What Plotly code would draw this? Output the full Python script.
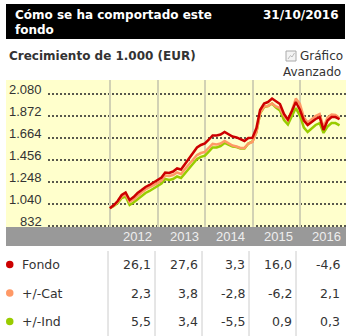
import plotly.graph_objects as go
import pandas as pd

W, H = 348, 336

# ---------------- data ----------------
dates = pd.date_range("2011-12-31", periods=59, freq="ME")

fondo = [1000, 1030, 1068, 1125, 1149, 1078, 1106, 1144, 1172, 1201, 1220, 1243,
         1262, 1290, 1338, 1333, 1347, 1376, 1366, 1418, 1475, 1527, 1574, 1598,
         1612, 1650, 1688, 1688, 1697, 1721, 1697, 1678, 1669, 1650, 1636, 1664,
         1665, 1758, 1929, 1990, 2004, 2037, 2009, 1985, 1891, 1839, 1919, 2004,
         1931, 1829, 1787, 1815, 1844, 1862, 1740, 1829, 1862, 1862, 1841]

cat = [1000, 1025, 1059, 1111, 1130, 1059, 1082, 1120, 1148, 1177, 1196, 1219,
       1237, 1262, 1310, 1305, 1314, 1338, 1323, 1371, 1418, 1461, 1503, 1522,
       1533, 1574, 1608, 1603, 1612, 1636, 1612, 1593, 1584, 1570, 1570, 1612,
       1626, 1720, 1901, 1962, 1966, 1990, 1962, 1947, 1872, 1830, 1928, 2037,
       1987, 1857, 1811, 1843, 1872, 1890, 1768, 1857, 1886, 1881, 1854]

ind = [1000, 1021, 1049, 1097, 1111, 1031, 1054, 1087, 1115, 1144, 1163, 1186,
       1206, 1233, 1277, 1267, 1276, 1300, 1286, 1333, 1380, 1423, 1465, 1485,
       1498, 1537, 1575, 1575, 1588, 1617, 1598, 1583, 1579, 1565, 1565, 1612,
       1630, 1720, 1896, 1957, 1966, 1990, 1952, 1924, 1834, 1792, 1872, 1947,
       1876, 1763, 1721, 1754, 1787, 1805, 1712, 1772, 1805, 1805, 1784]

series_names = ["Fondo", "+/-Cat", "+/-Ind"]
series_colors = ["#cc0000", "#ff9966", "#99cc00"]

years = ["2012", "2013", "2014", "2015", "2016"]
row_fondo = [26.1, 27.6, 3.3, 16.0, -4.6]
row_cat = [2.3, 3.8, -2.8, -6.2, 2.1]
row_ind = [5.5, 3.4, -5.5, 0.9, 0.3]

y_ticks = [832, 1040, 1248, 1456, 1664, 1872, 2080]
y_tick_text = ["832", "1.040", "1.248", "1.456", "1.664", "1.872", "2.080"]

title_text = "Cómo se ha comportado este"
title_text2 = "fondo"
date_text = "31/10/2016"
subtitle = "Crecimiento de 1.000 (EUR)"

# ---------------- layout helpers ----------------
def px(x):
    return x / W

def py(y):
    return 1 - y / H

PLOT_L, PLOT_R, PLOT_T, PLOT_B = 6, 346, 80, 227
X0_PX, PX_PER_YEAR = 110, 47.5
start = pd.Timestamp("2012-01-01")
px_per_day = PX_PER_YEAR / 365.25
x_lo = start - pd.Timedelta(days=(X0_PX - PLOT_L) / px_per_day)
x_hi = start + pd.Timedelta(days=(PLOT_R - X0_PX) / px_per_day)

fig = go.Figure()
for name, vals, col in list(zip(series_names, [fondo, cat, ind], series_colors))[::-1]:
    fig.add_trace(go.Scatter(x=dates, y=vals, mode="lines", name=name,
                             line=dict(color=col, width=2.5), showlegend=False,
                             hoverinfo="skip"))

shapes = []
annotations = []

# header
shapes.append(dict(type="rect", xref="paper", yref="paper", x0=px(6), x1=px(345),
                   y0=py(39), y1=py(4), fillcolor="#000000", line=dict(width=0)))
annotations.append(dict(text=title_text, xref="paper", yref="paper", x=px(13), y=py(15.5),
                        xanchor="left", yanchor="middle", showarrow=False,
                        font=dict(family="DejaVu Sans", size=12, color="#ffffff", weight="bold")))
annotations.append(dict(text=title_text2, xref="paper", yref="paper", x=px(13), y=py(29.5),
                        xanchor="left", yanchor="middle", showarrow=False,
                        font=dict(family="DejaVu Sans", size=12, color="#ffffff", weight="bold")))
annotations.append(dict(text=date_text, xref="paper", yref="paper", x=px(341), y=py(15.5),
                        xanchor="right", yanchor="middle", showarrow=False,
                        font=dict(family="DejaVu Sans", size=12, color="#ffffff", weight="bold")))

# subtitle and link
annotations.append(dict(text=subtitle, xref="paper", yref="paper", x=px(7), y=py(56.5),
                        xanchor="left", yanchor="middle", showarrow=False,
                        font=dict(family="DejaVu Sans", size=12, color="#333333", weight="bold")))
annotations.append(dict(text="Gráfico", xref="paper", yref="paper", x=px(345), y=py(56),
                        xanchor="right", yanchor="middle", showarrow=False,
                        font=dict(family="DejaVu Sans", size=12, color="#333333")))
annotations.append(dict(text="Avanzado", xref="paper", yref="paper", x=px(343), y=py(72),
                        xanchor="right", yanchor="middle", showarrow=False,
                        font=dict(family="DejaVu Sans", size=12, color="#333333")))
shapes.append(dict(type="rect", xref="paper", yref="paper", x0=px(286), x1=px(296),
                   y0=py(61), y1=py(51), fillcolor="#f4f4f4", line=dict(color="#aaaaaa", width=1)))
shapes.append(dict(type="path", xref="paper", yref="paper",
                   path=f"M {px(288)},{py(59)} L {px(290.5)},{py(55.5)} L {px(292)},{py(57)} L {px(294.5)},{py(53)}",
                   line=dict(color="#bbbbbb", width=1)))

# dotted horizontal gridlines + tick labels
for v, t in zip(y_ticks, y_tick_text):
    shapes.append(dict(type="line", xref="paper", yref="y", x0=px(48), x1=px(PLOT_R),
                       y0=v, y1=v, line=dict(color="#222222", width=1.5, dash="2px,2px"),
                       layer="below"))
    annotations.append(dict(text=t, xref="paper", yref="y", x=px(44), y=v, yshift=5,
                            xanchor="right", yanchor="middle", showarrow=False,
                            font=dict(family="Liberation Sans", size=13, color="#333333")))

# gray x band with year labels
shapes.append(dict(type="rect", xref="paper", yref="paper", x0=px(PLOT_L), x1=px(PLOT_R),
                   y0=py(246), y1=py(PLOT_B), fillcolor="#999999", line=dict(width=0)))
col_edges = [108, 155, 202, 249, 296, 344]
for i, yr in enumerate(years):
    annotations.append(dict(text=yr, xref="paper", yref="paper", x=px(col_edges[i + 1] - 1.5),
                            y=py(236.5), xanchor="right", yanchor="middle", showarrow=False,
                            font=dict(family="Liberation Sans", size=13, color="#eeeeee")))

# table
for xe in col_edges[:-1]:
    shapes.append(dict(type="line", xref="paper", yref="paper", x0=px(xe), x1=px(xe),
                       y0=py(251), y1=py(336), line=dict(color="#cccccc", width=1)))

row_y = [264.5, 293, 321.5]
rows = [row_fondo, row_cat, row_ind]
for r, (name, col, vals, yy) in enumerate(zip(series_names, series_colors, rows, row_y)):
    shapes.append(dict(type="circle", xref="paper", yref="paper", x0=px(6), x1=px(13.5),
                       y0=py(yy + 3.75), y1=py(yy - 3.75), fillcolor=col, line=dict(width=0)))
    annotations.append(dict(text=name, xref="paper", yref="paper", x=px(19.5), y=py(yy),
                            xanchor="left", yanchor="middle", showarrow=False,
                            font=dict(family="DejaVu Sans", size=12.5, color="#333333")))
    for i, v in enumerate(vals):
        annotations.append(dict(text=f"{v:.1f}".replace(".", ","), xref="paper", yref="paper",
                                x=px(col_edges[i + 1] - 2), y=py(yy), xanchor="right",
                                yanchor="middle", showarrow=False,
                                font=dict(family="DejaVu Sans", size=12.5, color="#333333")))

year_starts = [pd.Timestamp(f"{y}-01-01") for y in years]

fig.update_layout(
    width=W, height=H, autosize=False,
    margin=dict(l=0, r=0, t=0, b=0, pad=0),
    paper_bgcolor="#ffffff", plot_bgcolor="#ffffcc",
    shapes=shapes, annotations=annotations,
    xaxis=dict(type="date", range=[x_lo, x_hi], domain=[px(PLOT_L), px(PLOT_R)],
               tickvals=year_starts, showticklabels=False, ticks="",
               showgrid=True, gridcolor="#d2d2b4", gridwidth=1.5,
               zeroline=False, showline=False, fixedrange=True),
    yaxis=dict(range=[822.5, 2212.4], domain=[py(PLOT_B), py(PLOT_T)],
               showgrid=False, showticklabels=False, ticks="", zeroline=False,
               showline=False, fixedrange=True),
    hovermode=False,
)

fig.write_html("out.html", config={"displayModeBar": False})
